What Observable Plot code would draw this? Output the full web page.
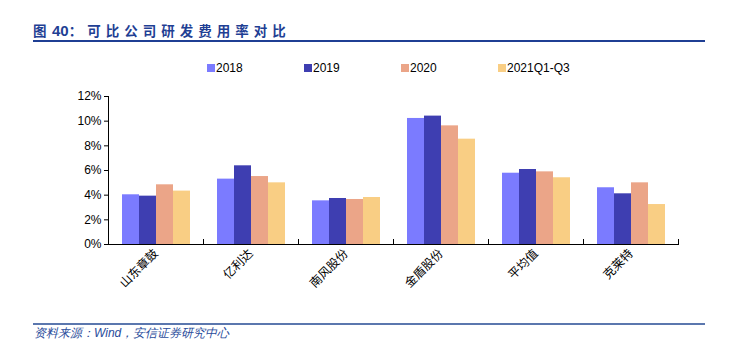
<!DOCTYPE html>
<html><head><meta charset="utf-8">
<script src="https://cdn.jsdelivr.net/npm/d3@7"></script>
<script src="https://cdn.jsdelivr.net/npm/@observablehq/plot@0.6"></script>
<style>
body{margin:0;background:#fff;width:729px;height:354px;position:relative;overflow:hidden;font-family:"Liberation Sans",Arial,sans-serif;}
#title{position:absolute;left:33px;top:20px;font-size:13.5px;font-weight:bold;color:#1F3F94;letter-spacing:5px;font-family:"Noto Sans CJK SC",sans-serif;white-space:nowrap;}
#title .fig{letter-spacing:5.5px;}
#title .num{font-family:"Liberation Sans",Arial,sans-serif;letter-spacing:0;font-size:15px;}
#tline{position:absolute;left:33px;top:40px;width:672px;height:2px;background:#1F3F94;}
#legend{position:absolute;top:61px;left:207px;display:flex;font-size:12px;color:#000;}
#legend .item{width:97px;display:flex;align-items:center;white-space:nowrap;}
#legend .sw{width:8px;height:8px;margin-right:1px;display:inline-block;}
#chart{position:absolute;left:0;top:80px;}
#fline{position:absolute;left:33px;top:323px;width:672px;height:2px;background:#5B77AE;}
#source{position:absolute;left:34px;top:325px;font-size:12px;font-style:italic;color:#2A4C9B;white-space:nowrap;}
</style>
</head><body>
<div id="title"><span class="fig">图</span><span class="num">40</span>：可比公司研发费用率对比</div>
<div id="tline"></div>
<div id="legend"></div>
<div id="chart"></div>
<div id="fline"></div>
<div id="source">资料来源：Wind，安信证券研究中心</div>
<script>
const companies = ["山东章鼓","亿利达","南风股份","金盾股份","平均值","克莱特"];
const series = ["2018","2019","2020","2021Q1-Q3"];
const v2018 = [4.03,5.30,3.54,10.22,5.78,4.60];
const v2019 = [3.92,6.38,3.73,10.41,6.08,4.11];
const v2020 = [4.84,5.51,3.65,9.62,5.89,5.00];
const v2021 = [4.33,5.00,3.81,8.54,5.41,3.24];
const yTicks = [0,0.02,0.04,0.06,0.08,0.10,0.12];
const colors = ["#7B7BFF","#3E3EB1","#EBA588","#F9CE84"];

const seriesValues = [v2018,v2019,v2020,v2021];
const data = companies.flatMap((c,i)=>series.map((s,j)=>({company:c, series:s, value:seriesValues[j][i]/100})));

const legend = document.getElementById("legend");
series.forEach((s,j)=>{
  const it = document.createElement("div"); it.className="item";
  it.innerHTML = `<span class="sw" style="background:${colors[j]}"></span><span>${s}</span>`;
  legend.appendChild(it);
});

const chart = Plot.plot({
  width:729, height:230,
  marginTop:16, marginBottom:66, marginLeft:108, marginRight:51,
  style:{fontFamily:"Liberation Sans, Arial, sans-serif", fontSize:"12px", color:"#000", background:"transparent", overflow:"visible"},
  fx:{domain:companies, padding:0, axis:null},
  x:{domain:series, paddingInner:0, paddingOuter:0.73, axis:null},
  y:{domain:[0,0.12], ticks:yTicks, tickFormat:d3.format(".0%"), label:null, tickSize:4, tickPadding:3, line:true},
  color:{domain:series, range:colors},
  marks:[
    Plot.barY(data,{fx:"company", x:"series", y:"value", fill:"series"}),
    Plot.ruleY([0],{stroke:"#000", strokeWidth:1.2}),
    Plot.frame({anchor:"left", insetTop:143, stroke:"#000"}),
    Plot.frame({anchor:"right", insetTop:143, stroke:"#000"}),
    Plot.axisFx({anchor:"bottom", tickRotate:-45, tickSize:0, tickPadding:7, label:null, fontFamily:"Noto Sans CJK SC, sans-serif", fontSize:12})
  ]
});
document.getElementById("chart").appendChild(chart);
</script>
</body></html>
